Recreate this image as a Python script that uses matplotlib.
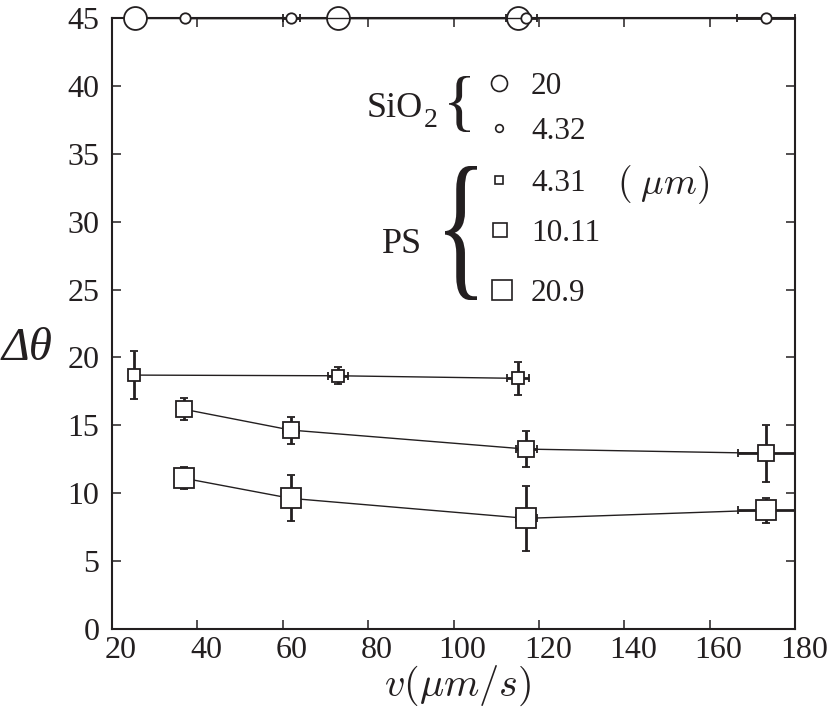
import numpy as np
import matplotlib
matplotlib.use("Agg")
import matplotlib.pyplot as plt
from matplotlib.textpath import TextPath
from matplotlib.patches import PathPatch
from matplotlib.font_manager import FontProperties
from matplotlib.transforms import Affine2D, IdentityTransform, ScaledTranslation
from matplotlib.lines import Line2D

# ---------------- data ----------------
# SiO2 particles (all at the top, delta theta = 45)
sio2_20_v = [25.3, 73.0, 115.0]
sio2_20_dt = [45, 45, 45]
sio2_20_verr = [np.nan, 2.4, 2.6]

sio2_432_v = [37.0, 62.0, 117.0, 173.2]
sio2_432_dt = [45, 45, 45, 45]
sio2_432_verr = [np.nan, 1.95, 2.5, 6.7]

# PS particles
ps_431_v = [25.2, 72.9, 115.1]
ps_431_dt = [18.70, 18.65, 18.46]
ps_431_dterr = [1.79, 0.64, 1.24]
ps_431_verr = [np.nan, 2.35, 2.6]

ps_1011_v = [36.9, 61.9, 117.1, 173.3]
ps_1011_dt = [16.18, 14.65, 13.25, 12.94]
ps_1011_dterr = [0.80, 0.99, 1.34, 2.08]
ps_1011_verr = [np.nan, 1.95, 2.5, 6.7]

ps_209_v = [36.9, 61.9, 117.1, 173.3]
ps_209_dt = [11.10, 9.62, 8.15, 8.76]
ps_209_dterr = [0.81, 1.69, 2.38, 0.92]
ps_209_verr = [np.nan, np.nan, 2.5, 6.7]

x_ticks = [20, 40, 60, 80, 100, 120, 140, 160, 180]
y_ticks = [0, 5, 10, 15, 20, 25, 30, 35, 40, 45]

legend_labels = ["20", "4.32", "4.31", "10.11", "20.9"]

# ---------------- style ----------------
C = "#231f20"
W, H = 830, 707
plt.rcParams["mathtext.fontset"] = "cm"
SERIF = "Liberation Serif"

fig = plt.figure(figsize=(W / 100, H / 100), dpi=100)
ax = fig.add_axes([112 / W, (H - 629) / H, (795 - 112) / W, (629 - 18) / H])

eb_kw = dict(color=C, ecolor=C, lw=1.0, elinewidth=2.0, capsize=3.2, capthick=2.0,
             mfc="white", mec=C, mew=1.3, clip_on=False, zorder=5)

ax.errorbar(sio2_20_v, sio2_20_dt, xerr=sio2_20_verr, fmt="o-", ms=16.5, **eb_kw)
ax.errorbar(sio2_432_v, sio2_432_dt, xerr=sio2_432_verr, fmt="o-", ms=7.5, **eb_kw)
ax.errorbar(ps_431_v, ps_431_dt, yerr=ps_431_dterr, xerr=ps_431_verr, fmt="s-", ms=8.5, **eb_kw)
ax.errorbar(ps_1011_v, ps_1011_dt, yerr=ps_1011_dterr, xerr=ps_1011_verr, fmt="s-", ms=11.0, **eb_kw)
ax.errorbar(ps_209_v, ps_209_dt, yerr=ps_209_dterr, xerr=ps_209_verr, fmt="s-", ms=14.5, **eb_kw)

ax.set_xlim(20, 180)
ax.set_ylim(0, 45)
ax.set_xticks(x_ticks)
ax.set_yticks(y_ticks)
ax.set_xticklabels([str(t) for t in x_ticks], fontfamily=SERIF, fontsize=23)
ax.set_yticklabels([str(t) for t in y_ticks], fontfamily=SERIF, fontsize=23)
ax.tick_params(direction="in", top=True, right=True, length=6.5, width=1.1, colors=C)
ax.tick_params(axis="x", pad=5)
ax.tick_params(axis="y", pad=9)
for s in ax.spines.values():
    s.set_color(C)
    s.set_linewidth(1.5)

fig.text(458 / W, 1 - 686 / H, r"$v(\mu m/s)$", fontsize=29, color=C,
         ha="center", va="center")
fig.text(2 / W, 1 - 349 / H, "\u0394\u03b8", fontfamily=SERIF, fontstyle="italic",
         fontsize=34, color=C, ha="left", va="center")

# ---------------- legend (manual) ----------------
def axfrac(px, py):
    return (px - 112) / 683, (629 - py) / 611

leg_marks = [("o", 11.5, 498.5, 83), ("o", 5.5, 499, 128), ("s", 6.0, 499.5, 180),
             ("s", 9.5, 500, 230), ("s", 14.0, 502, 290)]
for (mk, ms, px, py), lab in zip(leg_marks, legend_labels):
    fx, fy = axfrac(px, py)
    ax.add_line(Line2D([fx], [fy], marker=mk, ms=ms, mfc="white", mec=C, mew=1.2,
                       ls="none", transform=ax.transAxes, clip_on=False))
    ax.text((531 - 112) / 683, fy, lab, transform=ax.transAxes, fontfamily=SERIF,
            fontsize=22.5, color=C, ha="left", va="center_baseline")

ax.text((617 - 112) / 683, axfrac(0, 185)[1], r"$(\;\mu m)$", transform=ax.transAxes,
        fontsize=27, color=C, ha="left", va="center")

fig.text(367 / W, 1 - 117 / H, "SiO", fontfamily=SERIF, fontsize=26, color=C,
         ha="left", va="baseline")
fig.text(424 / W, 1 - 127 / H, "2", fontfamily=SERIF, fontsize=20, color=C,
         ha="left", va="baseline")
fig.text(382 / W, 1 - 253 / H, "PS", fontfamily=SERIF, fontsize=26, color=C,
         ha="left", va="baseline")


def brace(x0, x1, ytop, ybot):
    tp = TextPath((0, 0), "{", size=100, prop=FontProperties(family=SERIF))
    ext = tp.get_extents()
    sx = (x1 - x0) / ext.width
    sy = (ybot - ytop) / ext.height
    tr = Affine2D().translate(-ext.x0, -ext.y0).scale(sx, sy).translate(x0, H - ybot)
    fig.add_artist(PathPatch(tr.transform_path(tp), fc=C, ec="none",
                             transform=IdentityTransform()))


brace(449, 470, 76, 132)
brace(445, 477, 166, 300)

# shift x tick labels slightly right as in the reference
fig.canvas.draw()
off = ScaledTranslation(9 / 100, 0, fig.dpi_scale_trans)
for t in ax.xaxis.get_major_ticks():
    t.label1.set_transform(t.label1.get_transform() + off)

fig.savefig("out.png", dpi=100)
